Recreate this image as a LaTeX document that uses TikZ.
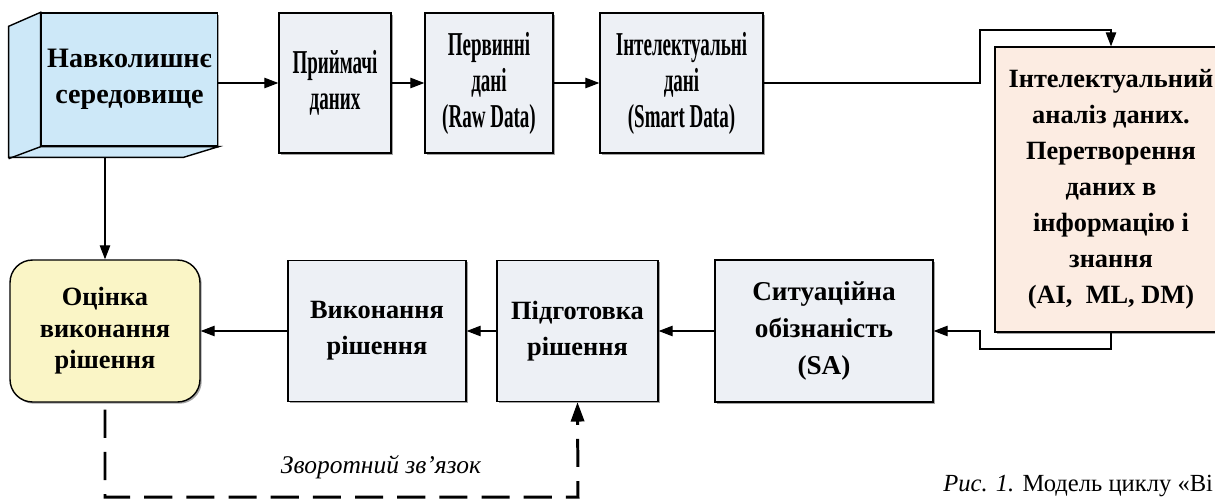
\documentclass[tikz,border=0pt]{standalone}
\usepackage{fontspec}
\setmainfont{Liberation Serif}
\newfontfamily\narrowfont{Liberation Serif}[FakeStretch=0.57]
\usetikzlibrary{arrows.meta,shadows}

\definecolor{boxgrey}{HTML}{EDF0F5}
\definecolor{envblue}{HTML}{CDE8F8}
\definecolor{evalyellow}{HTML}{FAF5C6}
\definecolor{dmpeach}{HTML}{FCECE2}

\tikzset{
  block/.style={rectangle, draw, line width=0.8pt, fill=boxgrey, align=center,
    font=\bfseries\fontsize{15}{20.5}\selectfont,
    drop shadow={shadow xshift=1pt, shadow yshift=-1pt, fill=black!60, opacity=0.6}},
  narrowblock/.style={block, font=\narrowfont\bfseries\fontsize{19}{20.5}\selectfont},
  link/.style={line width=0.6pt, -{Triangle[length=8pt,width=6pt]}},
  feedback/.style={line width=1.7pt, dash pattern=on 16pt off 8pt, dash phase=20pt,
    -{Triangle[length=11pt,width=7.5pt]}},
}

\begin{document}
\begin{tikzpicture}[x=0.02cm, y=-0.02cm]
	\useasboundingbox (0,0) rectangle (1215,501);
	% top row
	\node[block, fill=envblue, minimum width=3.5cm, minimum height=2.66cm,
		font=\bfseries\fontsize{16}{20.5}\selectfont] (env) at (129.5,79.5) {Навколишнє\\середовище};
	\draw[line width=0.8pt, fill=envblue] (env.north west) -- ++(-32,14) -- ++(0,131)
		-- ++(175,0) -- (env.south east) -- (env.south west) -- cycle;
	\draw[line width=0.8pt] (env.south west) -- ++(-32,12);
	\node[narrowblock, minimum width=2.24cm, minimum height=2.8cm] (recv) at (335,83) {Приймачі\\даних};
	\node[narrowblock, minimum width=2.56cm, minimum height=2.8cm] (raw) at (489,83) {Первинні\\дані\\(Raw Data)};
	\node[narrowblock, minimum width=3.26cm, minimum height=2.8cm] (smart) at (681.5,83) {Інтелектуальні\\дані\\(Smart Data)};
	\node[block, fill=dmpeach, minimum width=4.64cm, minimum height=5.7cm,
		font=\bfseries\fontsize{15}{20.5}\selectfont] (dm) at (1111,189.5)
		{Інтелектуальний\\аналіз даних.\\Перетворення\\даних в\\інформацію і\\знання\\(AI,\ \ ML, DM)};
	% bottom row
	\node[block, fill=evalyellow, rounded corners=0.45cm, minimum width=3.8cm, minimum height=2.84cm,
		font=\bfseries\fontsize{15}{18}\selectfont] (eval) at (105,331) {Оцінка\\виконання\\рішення};
	\node[block, minimum width=3.56cm, minimum height=2.82cm] (exec) at (377,331) {Виконання\\рішення};
	\node[block, minimum width=3.22cm, minimum height=2.82cm] (prep) at (577.5,331) {Підготовка\\рішення};
	\node[block, minimum width=4.36cm, minimum height=2.84cm,
		font=\bfseries\fontsize{15.5}{21}\selectfont] (sa) at (824,331) {Ситуаційна\\обізнаність\\(SA)};
	% connectors
	\coordinate (envbase) at (105,158);
	\coordinate (up) at (980,30);
	\coordinate (down) at (980,349);
	\draw[link] (env.east |- recv) -- (recv.west);
	\draw[link] (recv.east) -- (raw.west);
	\draw[link] (raw.east) -- (smart.west);
	\draw[link] (smart.east) -| (up) -| (dm.north);
	\draw[link] (dm.south) |- (down) |- (sa.east);
	\draw[link] (sa.west) -- (prep.east);
	\draw[link] (prep.west) -- (exec.east);
	\draw[link] (exec.west) -- (eval.east);
	\draw[link] (envbase) -- (eval.north);
	% feedback
	\coordinate (fbend) at (578,497);
	\draw[feedback] (eval.south) |- (fbend) -- (prep.south);
	\node[font=\itshape\fontsize{14.5}{18}\selectfont] (fblabel) at (381,467) {Зворотний зв’язок};
	\node[anchor=base west, inner sep=0pt, font=\fontsize{14}{17}\selectfont] (caption) at (943,491)
		{\textit{Рис. 1.} Модель циклу «Ві};
\end{tikzpicture}
\end{document}
